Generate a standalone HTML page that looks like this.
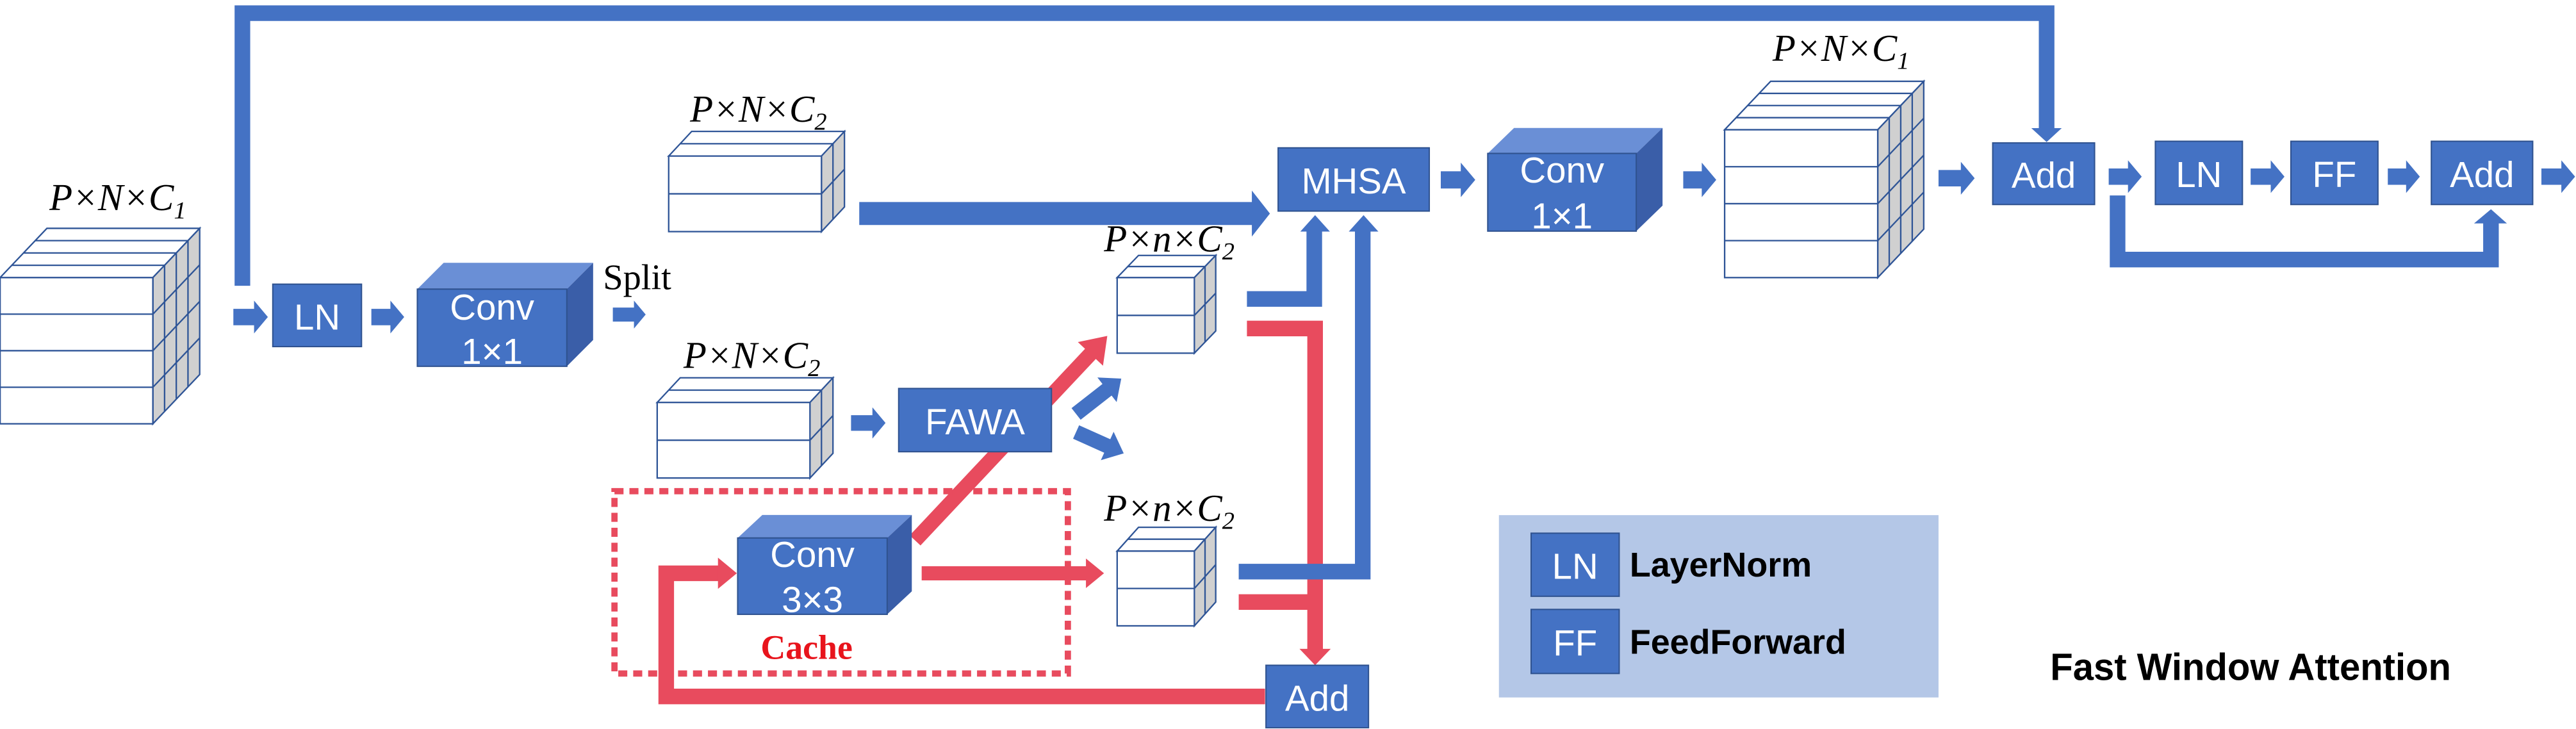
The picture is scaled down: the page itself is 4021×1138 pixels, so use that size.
<!DOCTYPE html>
<html><head><meta charset="utf-8"><style>
html,body{margin:0;padding:0;background:#fff;}
svg{display:block;}
</style></head><body>
<svg id="s" xmlns="http://www.w3.org/2000/svg" width="4021" height="1138" viewBox="0 0 1568 443.8">
<rect x="0" y="0" width="1568" height="443.8" fill="#fff"/>
<g id="g"></g>
<g font-family="Liberation Serif, serif" font-style="italic" font-size="23" fill="#000">
<text x="30" y="128">P×N×C<tspan font-size="15" dy="5">1</tspan></text>
<text x="420" y="74">P×N×C<tspan font-size="15" dy="5">2</tspan></text>
<text x="416" y="224">P×N×C<tspan font-size="15" dy="5">2</tspan></text>
<text x="672" y="153">P×n×C<tspan font-size="15" dy="5">2</tspan></text>
<text x="672" y="317">P×n×C<tspan font-size="15" dy="5">2</tspan></text>
<text x="1079" y="37">P×N×C<tspan font-size="15" dy="5">1</tspan></text>
</g>
<text x="367" y="176" font-family="Liberation Serif, serif" font-size="22" fill="#000">Split</text>
<text x="463" y="401" font-family="Liberation Serif, serif" font-weight="bold" font-size="21" fill="#e8141c">Cache</text>
<g font-family="Liberation Sans, sans-serif" font-weight="bold" font-size="21" fill="#000">
<text x="992" y="351">LayerNorm</text>
<text x="992" y="398">FeedForward</text>
<text x="1248" y="414" font-size="23" textLength="244" lengthAdjust="spacingAndGlyphs">Fast Window Attention</text>
</g>
</svg>
<script>
const NS="http://www.w3.org/2000/svg";
const G=document.getElementById('g');
const BLUE="#4472c4",RED="#e84b5e",LINE="#2f5597",DK="#2f528f";
function el(tag,attrs,parent){const e=document.createElementNS(NS,tag);for(const k in attrs)e.setAttribute(k,attrs[k]);(parent||G).appendChild(e);return e;}
function poly(pts,fill,extra){const a={points:pts.map(p=>p.join(',')).join(' '),fill:fill};Object.assign(a,extra||{});return el('polygon',a);}
function pl(pts,color,w){return el('polyline',{points:pts.map(p=>p.join(',')).join(' '),fill:'none',stroke:color,'stroke-width':w,'stroke-linejoin':'miter','stroke-linecap':'butt'});}
function text(x,y,t,size,fill){const e=el('text',{x:x,y:y,'text-anchor':'middle','dominant-baseline':'central','font-family':'Liberation Sans, sans-serif','font-size':size||22,fill:fill||'#fff'});e.textContent=t;return e;}
function cube(x,y,w,h,dx,dy,rows,layers){
  const sw={stroke:LINE,'stroke-width':0.9,'stroke-linejoin':'miter'};
  poly([[x,y],[x+dx,y-dy],[x+w+dx,y-dy],[x+w,y]],'#fff',sw);
  poly([[x+w,y],[x+w+dx,y-dy],[x+w+dx,y+h-dy],[x+w,y+h]],'#d0d0d0',sw);
  el('rect',Object.assign({x:x,y:y,width:w,height:h,fill:'#fff'},sw));
  for(let i=1;i<rows;i++){const yy=y+h*i/rows;el('line',Object.assign({x1:x,y1:yy,x2:x+w,y2:yy},sw));el('line',Object.assign({x1:x+w,y1:yy,x2:x+w+dx,y2:yy-dy},sw));}
  for(let j=1;j<layers;j++){const ox=dx*j/layers,oy=dy*j/layers;
    el('line',Object.assign({x1:x+ox,y1:y-oy,x2:x+w+ox,y2:y-oy},sw));
    el('line',Object.assign({x1:x+w+ox,y1:y-oy,x2:x+w+ox,y2:y+h-oy},sw));}
}
function block(x,y,w,h,dx,dy){
  poly([[x,y],[x+dx,y-dy],[x+w+dx,y-dy],[x+w,y]],'#6a8fd6');
  poly([[x+w,y],[x+w+dx,y-dy],[x+w+dx,y+h-dy],[x+w,y+h]],'#3a5ea8');
  el('rect',{x:x,y:y,width:w,height:h,fill:BLUE,stroke:DK,'stroke-width':0.8});
}
function box(x1,y1,x2,y2,t){el('rect',{x:x1,y:y1,width:x2-x1,height:y2-y1,fill:BLUE,stroke:DK,'stroke-width':0.8});text((x1+x2)/2,(y1+y2)/2+1,t,22);}
function harrow(x1,x2,y1,y2,color,shr,hlen){const h=y2-y1,c=(y1+y2)/2,sh=h*(shr||0.25),hl=hlen||Math.min(h*0.42,(x2-x1)*0.5);
  poly([[x1,c-sh],[x2-hl,c-sh],[x2-hl,y1],[x2,c],[x2-hl,y2],[x2-hl,c+sh],[x1,c+sh]],color||BLUE);}
function arrowAB(x1,y1,x2,y2,sw,hw,hl,color){const L=Math.hypot(x2-x1,y2-y1),ux=(x2-x1)/L,uy=(y2-y1)/L,nx=-uy,ny=ux;
  const bx=x2-ux*hl,by=y2-uy*hl;
  poly([[x1+nx*sw/2,y1+ny*sw/2],[bx+nx*sw/2,by+ny*sw/2],[bx+nx*hw/2,by+ny*hw/2],[x2,y2],[bx-nx*hw/2,by-ny*hw/2],[bx-nx*sw/2,by-ny*sw/2],[x1-nx*sw/2,y1-ny*sw/2]],color);}

pl([[147.5,174],[147.5,8],[1245.8,8],[1245.8,79]],BLUE,9.5);
poly([[1236.5,78],[1255,78],[1245.8,86.5]],BLUE);
cube(0,169,93,89,28.5,30,4,4);
harrow(142,163,183,203);
box(166,173,220,211,'LN');
harrow(226,246,183,203);
block(254,176,91,47,16,16);
text(299.5,187,'Conv',22);text(299.5,214,'1×1',22);
harrow(373,393,183,200);
cube(407,95,93,46,14,15,2,2);
harrow(523,773,116,144,BLUE,0.25,11);
box(778,90,870,128.5,'MHSA');
harrow(877,898,99,120);
cube(400,245,93,46,14,15,2,2);
harrow(518,539,248,267);
arrowAB(557,329,674,204.5,9,21,15,RED);
box(547,236.5,640,275,'FAWA');
arrowAB(655,252,682.5,230.5,9,19,11,BLUE);
arrowAB(655,263,684,276,9,19,11,BLUE);
el('rect',{x:374,y:299,width:276,height:111,fill:'none',stroke:RED,'stroke-width':3.8,'stroke-dasharray':'5.5,3.6'});
pl([[770,424],[405.5,424],[405.5,349],[438,349]],RED,9.5);
poly([[437,339.5],[437,358.5],[448.5,349]],RED);
block(449,327.5,91,46.5,15,14);
text(494.5,337.5,'Conv',22);text(494.5,365,'3×3',22);
harrow(561,672,340,358,RED,0.24,11);
cube(680,169,47,46,13,13.5,2,2);
cube(680,335.5,47,45.5,13,14.5,2,2);
pl([[759,200],[800.5,200],[800.5,396]],RED,9.5);
poly([[791,395],[810,395],[800.5,405]],RED);
pl([[754,366.5],[800.5,366.5]],RED,9.5);
pl([[759,182],[800,182],[800,140]],BLUE,9.5);
poly([[791.5,141],[809.5,141],[800.5,131]],BLUE);
pl([[754,348],[829.5,348],[829.5,140]],BLUE,9.5);
poly([[821,141],[839,141],[830,131]],BLUE);
box(770.6,405,833,443,'Add');
block(905.6,93.4,90.4,47.3,16,15.5);
text(950.8,103.5,'Conv',22);text(950.8,131.5,'1×1',22);
harrow(1024.6,1044.7,99,120);
cube(1049.8,79,93.2,90,28,29.5,4,4);
harrow(1180,1202,98.5,118.5);
box(1213,87,1275,124.5,'Add');
harrow(1283.6,1303.7,97.6,117.5);
pl([[1289,119],[1289,158],[1516.3,158],[1516.3,135]],BLUE,9.5);
poly([[1506,136],[1526,136],[1516.3,127.4]],BLUE);
box(1312,86,1365,124.5,'LN');
harrow(1370,1390.6,97.6,117.5);
box(1394.5,86,1447.5,124.5,'FF');
harrow(1453.5,1473,97.6,117.5);
box(1480,86,1541.7,124.5,'Add');
harrow(1547,1567.5,97.6,117.5);
el('rect',{x:912.4,y:313.6,width:267.6,height:111,fill:'#b4c7e7'});
box(932,324.6,985.6,363,'LN');
box(932,371,985.6,410,'FF');
</script>
</body></html>
